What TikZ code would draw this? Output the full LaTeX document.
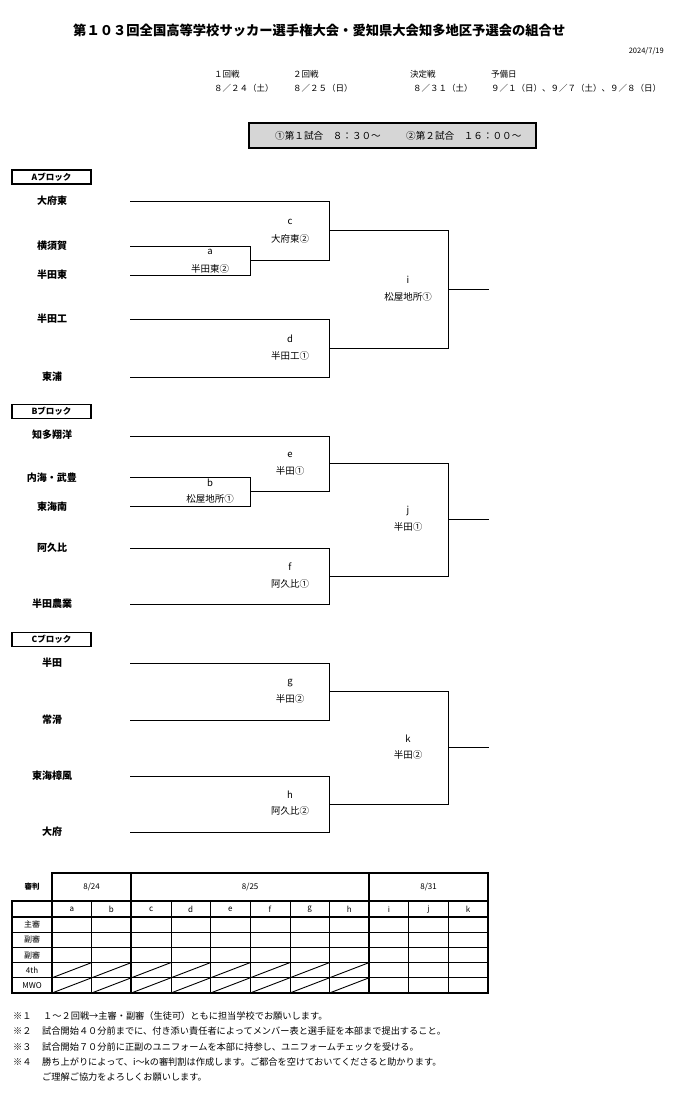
\documentclass[tikz,border=0pt]{standalone}
\usepackage{fontspec}
\setmainfont{Noto Sans CJK JP}
\usetikzlibrary{calc}
\begin{document}
\begin{tikzpicture}[x=1pt,y=-1pt,
  team/.style={font=\bfseries\fontsize{10}{12}\selectfont, inner sep=0pt},
  lbl/.style={font=\fontsize{9.5}{11}\selectfont, inner sep=0pt},
  hdr/.style={font=\fontsize{8.5}{10}\selectfont, inner sep=0pt, anchor=west},
  note/.style={font=\fontsize{9.2}{11}\selectfont, inner sep=0pt, anchor=west},
  tbl/.style={font=\fontsize{8}{10}\selectfont, inner sep=0pt},
  blk/.style={draw, line width=1.3pt, minimum width=79pt, minimum height=14pt, inner sep=0pt, font=\bfseries\fontsize{8.5}{10}\selectfont},
  br/.style={line width=0.9pt},
  thickl/.style={line width=1.6pt},
  midl/.style={line width=1pt},
  thinl/.style={line width=0.6pt},
  diag/.style={line width=0.9pt}]
\useasboundingbox (0,0) rectangle (686,1107);

% ---------- title and header ----------
\node[font=\bfseries\fontsize{13.3}{15}\selectfont, inner sep=0pt, anchor=west] (title) at (73,30) {第１０３回全国高等学校サッカー選手権大会・愛知県大会知多地区予選会の組合せ};
\node[font=\fontsize{7.5}{9}\selectfont, inner sep=0pt, anchor=east] (date) at (664,51) {2024/7/19};
\node[hdr] (r1) at (214,74) {１回戦};
\node[hdr] (r1d) at (214,88) {８／２４（土）};
\node[hdr] (r2) at (293,74) {２回戦};
\node[hdr] (r2d) at (293,88) {８／２５（日）};
\node[hdr] (r3) at (410,74) {決定戦};
\node[hdr] (r3d) at (413,88) {８／３１（土）};
\node[hdr] (r4) at (491,74) {予備日};
\node[hdr] (r4d) at (491,88) {９／１（日）、９／７（土）、９／８（日）};

\draw[line width=1.6pt, fill=black!16] (249,123) rectangle (536,148);
\node[font=\fontsize{9.6}{12}\selectfont, inner sep=0pt, anchor=west] (g1) at (275,135.5) {①第１試合　８：３０～};
\node[font=\fontsize{9.6}{12}\selectfont, inner sep=0pt, anchor=west] (g2) at (406,135.5) {②第２試合　１６：００～};

% ---------- Block A ----------
\node[blk] (blkA) at (51.5,177) {Aブロック};
\node[team] (A1) at (52,201) {大府東};
\node[team] (A2) at (52,246) {横須賀};
\node[team] (A3) at (52,275) {半田東};
\node[team] (A4) at (52,319) {半田工};
\node[team] (A5) at (52,377) {東浦};
\coordinate (sA1) at (130,201);
\coordinate (sA2) at (130,246);
\coordinate (sA3) at (130,275);
\coordinate (sA4) at (130,319);
\coordinate (sA5) at (130,377);
\draw[br] (sA2) -- ++(120,0) coordinate (aT) -- (aT |- sA3) coordinate (aB) -- (sA3);
\coordinate (aO) at ($(aT)!.5!(aB)$);
\draw[br] (sA1) -- ++(199,0) coordinate (cT) -- (cT |- aO) coordinate (cB) -- (aO);
\coordinate (cO) at ($(cT)!.5!(cB)$);
\draw[br] (sA4) -- ++(199,0) coordinate (dT) -- (dT |- sA5) coordinate (dB) -- (sA5);
\coordinate (dO) at ($(dT)!.5!(dB)$);
\draw[br] (cO) -- ++(119,0) coordinate (iT) -- (iT |- dO) coordinate (iB) -- (dO);
\coordinate (iO) at ($(iT)!.5!(iB)$);
\coordinate (iE) at ($(iO)+(41,0)$);
\draw[br] (iO) -- (iE);
\node[lbl] (aL) at ($(aO)+(-40,-8.5)$) {a};
\node[lbl] (aW) at ($(aO)+(-40,8)$) {半田東②};
\node[lbl] (cL) at ($(cO)+(-39,-9)$) {c};
\node[lbl] (cW) at ($(cO)+(-39,8)$) {大府東②};
\node[lbl] (dL) at ($(dO)+(-39,-9)$) {d};
\node[lbl] (dW) at ($(dO)+(-39,8)$) {半田工①};
\node[lbl] (iL) at ($(iO)+(-40,-10)$) {i};
\node[lbl] (iW) at ($(iO)+(-40,8)$) {松屋地所①};

% ---------- Block B ----------
\node[blk] (blkB) at (51.5,411.5) {Bブロック};
\node[team] (B1) at (52,435) {知多翔洋};
\node[team] (B2) at (52,478) {内海・武豊};
\node[team] (B3) at (52,507) {東海南};
\node[team] (B4) at (52,548) {阿久比};
\node[team] (B5) at (52,604) {半田農業};
\coordinate (sB1) at (130,436);
\coordinate (sB2) at (130,477);
\coordinate (sB3) at (130,506);
\coordinate (sB4) at (130,548);
\coordinate (sB5) at (130,604);
\draw[br] (sB2) -- ++(120,0) coordinate (bT) -- (bT |- sB3) coordinate (bB) -- (sB3);
\coordinate (bO) at ($(bT)!.5!(bB)$);
\draw[br] (sB1) -- ++(199,0) coordinate (eT) -- (eT |- bO) coordinate (eB) -- (bO);
\coordinate (eO) at ($(eT)!.5!(eB)$);
\draw[br] (sB4) -- ++(199,0) coordinate (fT) -- (fT |- sB5) coordinate (fB) -- (sB5);
\coordinate (fO) at ($(fT)!.5!(fB)$);
\draw[br] (eO) -- ++(119,0) coordinate (jT) -- (jT |- fO) coordinate (jB) -- (fO);
\coordinate (jO) at ($(jT)!.5!(jB)$);
\coordinate (jE) at ($(jO)+(41,0)$);
\draw[br] (jO) -- (jE);
\node[lbl] (bL) at ($(bO)+(-40,-8.5)$) {b};
\node[lbl] (bW) at ($(bO)+(-40,7.5)$) {松屋地所①};
\node[lbl] (eL) at ($(eO)+(-39,-8.5)$) {e};
\node[lbl] (eW) at ($(eO)+(-39,7.5)$) {半田①};
\node[lbl] (fL) at ($(fO)+(-39,-9)$) {f};
\node[lbl] (fW) at ($(fO)+(-39,7.5)$) {阿久比①};
\node[lbl] (jL) at ($(jO)+(-40,-9)$) {j};
\node[lbl] (jW) at ($(jO)+(-40,7.5)$) {半田①};

% ---------- Block C ----------
\node[blk] (blkC) at (51.5,639.5) {Cブロック};
\node[team] (C1) at (52,663) {半田};
\node[team] (C2) at (52,720) {常滑};
\node[team] (C3) at (52,776) {東海樟風};
\node[team] (C4) at (52,832) {大府};
\coordinate (sC1) at (130,663);
\coordinate (sC2) at (130,720);
\coordinate (sC3) at (130,776);
\coordinate (sC4) at (130,832);
\draw[br] (sC1) -- ++(199,0) coordinate (gT) -- (gT |- sC2) coordinate (gB) -- (sC2);
\coordinate (gO) at ($(gT)!.5!(gB)$);
\draw[br] (sC3) -- ++(199,0) coordinate (hT) -- (hT |- sC4) coordinate (hB) -- (sC4);
\coordinate (hO) at ($(hT)!.5!(hB)$);
\draw[br] (gO) -- ++(119,0) coordinate (kT) -- (kT |- hO) coordinate (kB) -- (hO);
\coordinate (kO) at ($(kT)!.5!(kB)$);
\coordinate (kE) at ($(kO)+(41,0)$);
\draw[br] (kO) -- (kE);
\node[lbl] (gL) at ($(gO)+(-39,-8.5)$) {g};
\node[lbl] (gW) at ($(gO)+(-39,7)$) {半田②};
\node[lbl] (hL) at ($(hO)+(-39,-9)$) {h};
\node[lbl] (hW) at ($(hO)+(-39,7)$) {阿久比②};
\node[lbl] (kL) at ($(kO)+(-40,-9.5)$) {k};
\node[lbl] (kW) at ($(kO)+(-40,7)$) {半田②};

% ---------- referee table ----------
\def\cw{39.636}
\node[tbl, font=\bfseries\fontsize{7.5}{9}\selectfont] (ref) at (32,887) {審判};
% diagonals in 4th and MWO rows, columns a..h
\foreach \k in {0,...,7} {
  \draw[diag] ({52+\k*\cw},977.8) -- ({52+(\k+1)*\cw},962.6);
  \draw[diag] ({52+\k*\cw},993) -- ({52+(\k+1)*\cw},977.8);
}
% thin column lines
\foreach \k in {1,3,4,5,6,7,9,10} {
  \draw[thinl] ({52+\k*\cw},901) -- ({52+\k*\cw},993);
}
% row lines
\foreach \yy in {932.2,947.4,962.6,977.8} {
  \draw[midl] (12,\yy) -- (488,\yy);
}
\draw[line width=1.3pt] (12,917) -- (488,917);
% thick lines
\draw[thickl] (52,873) rectangle (488,901);
\draw[thickl] (12,901) rectangle (488,993);
\draw[thickl] (52,873) -- (52,993);
\draw[thickl] ({52+2*\cw},873) -- ({52+2*\cw},993);
\draw[thickl] ({52+8*\cw},873) -- ({52+8*\cw},993);
% header texts
\node[tbl] (d1) at ({52+1*\cw},887) {8/24};
\node[tbl] (d2) at ({52+5*\cw},887) {8/25};
\node[tbl] (d3) at ({52+9.5*\cw},887) {8/31};
\foreach \l [count=\n from 0] in {a,b,c,d,e,f,g,h,i,j,k} {
  \node[tbl] (col\l) at ({52+(\n+0.5)*\cw},909) {\l};
}
\node[tbl] (row1) at (32,924.6) {主審};
\node[tbl] (row2) at (32,939.8) {副審};
\node[tbl] (row3) at (32,955) {副審};
\node[tbl] (row4) at (32,970.2) {4th};
\node[tbl] (row5) at (32,985.4) {MWO};

% ---------- notes ----------
\node[note] (n1m) at (13,1016) {※１};
\node[note] (n1) at (43,1016) {１～２回戦→主審・副審（生徒可）ともに担当学校でお願いします。};
\node[note] (n2m) at (13,1031) {※２};
\node[note] (n2) at (42,1031) {試合開始４０分前までに、付き添い責任者によってメンバー表と選手証を本部まで提出すること。};
\node[note] (n3m) at (13,1047) {※３};
\node[note] (n3) at (42,1047) {試合開始７０分前に正副のユニフォームを本部に持参し、ユニフォームチェックを受ける。};
\node[note] (n4m) at (13,1062) {※４};
\node[note] (n4) at (42,1062) {勝ち上がりによって、i～kの審判割は作成します。ご都合を空けておいてくださると助かります。};
\node[note] (n5) at (42,1077) {ご理解ご協力をよろしくお願いします。};
\end{tikzpicture}
\end{document}
